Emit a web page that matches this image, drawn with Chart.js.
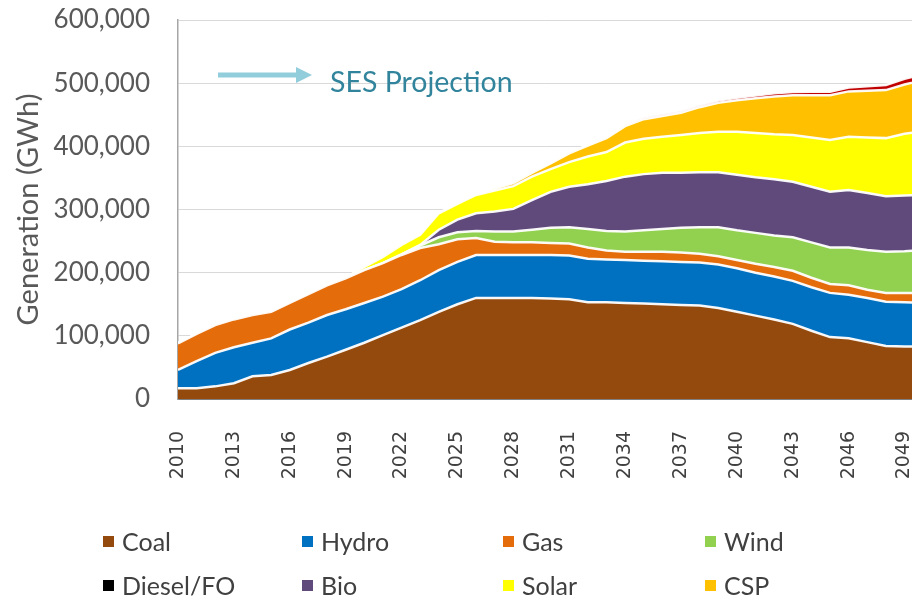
<!DOCTYPE html>
<html>
<head>
<meta charset="utf-8">
<script src="https://cdn.jsdelivr.net/npm/chart.js@4.4.1/dist/chart.umd.min.js"></script>
<style>
  html, body { margin: 0; padding: 0; background: #ffffff; overflow: hidden; width: 912px; height: 605px; }
  #wrap { position: relative; width: 912px; height: 605px; }
  #c { position: absolute; left: 0; top: 0; }
  .lg { position: absolute; font-family: Lato, "Open Sans", sans-serif; font-size: 25px; color: #404040; line-height: 30px; white-space: nowrap; }
  .lg i { position: absolute; left: 0; top: 10px; width: 11px; height: 11px; }
  .lg span { position: absolute; left: 19px; top: 0; }
</style>
</head>
<body>
<div id="wrap">
  <canvas id="c" width="912" height="605"></canvas>
</div>
<script>
// ---- data (GWh) ----
const years = [2010,2011,2012,2013,2014,2015,2016,2017,2018,2019,2020,2021,2022,2023,2024,2025,2026,2027,2028,2029,2030,2031,2032,2033,2034,2035,2036,2037,2038,2039,2040,2041,2042,2043,2044,2045,2046,2047,2048,2049,2050];

const coal = [17000,17000,20000,25000,36000,38000,46000,57000,67000,78000,89000,101000,113000,125000,138000,150000,160000,160000,160000,160000,159000,158000,153000,153000,152000,151000,150000,149000,148000,144000,138000,132000,126000,119000,108000,98000,96000,90000,84000,83000,83000];
const hydro = [29000,43000,53000,57000,53000,58000,64000,64000,66000,64000,63000,61000,61000,63000,66000,67000,68000,68000,68000,68000,69000,69000,69000,68000,68000,68000,68000,68000,68000,69000,69000,68000,68000,68000,69000,70000,69000,70000,70000,70000,69000];
const gas = [42000,43000,44000,44000,44000,42000,42000,45000,47000,49000,52000,53000,54000,51000,41000,36000,27000,21000,20000,20000,19000,19000,18000,14000,13000,14000,15000,15000,14000,13000,13000,14000,15000,16000,15000,14000,15000,13000,14000,15000,16000];
const wind = [0,0,0,0,0,0,0,0,0,0,0,0,1000,4000,11000,11000,11000,16000,17000,20000,24000,26000,29000,31000,32000,34000,36000,39000,42000,46000,47000,49000,50000,53000,56000,58000,60000,63000,65000,66000,68000];
const diesel = [0,0,0,0,0,0,0,0,0,0,0,0,0,0,0,0,0,0,0,0,0,0,0,0,0,0,0,0,0,0,0,0,0,0,0,0,0,0,0,0,0];
const bio = [0,0,0,0,0,0,0,0,0,0,0,0,0,1000,12000,20000,28000,32000,36000,47000,57000,64000,71000,79000,87000,89000,89000,87000,87000,87000,88000,88000,89000,88000,88000,88000,91000,90000,88000,88000,87000];
const solar = [0,0,0,0,0,0,0,0,0,1000,5000,10000,15000,16000,26000,25000,29000,33000,36000,37000,36000,39000,44000,46000,54000,56000,57000,60000,62000,64000,68000,70000,71000,74000,78000,82000,84000,88000,92000,98000,101000];
const csp = [0,0,0,0,0,0,0,0,0,0,0,0,0,0,0,0,0,3000,5000,6000,9000,14000,17000,22000,26000,31000,33000,35000,41000,46000,50000,55000,60000,63000,67000,71000,72000,74000,76000,78000,81000];
const other = [0,0,0,0,0,0,0,0,0,0,0,0,0,0,0,0,0,0,0,0,500,1000,1000,1500,2000,2500,3000,3000,3000,3500,4000,4500,5000,5000,5500,5500,6000,7000,8000,9000,9000];

const seriesNames = ['Coal','Hydro','Gas','Wind','Diesel/FO','Bio','Solar','CSP','Other'];
const seriesColors = ['#944a0c','#0070c0','#e46c0a','#92d050','#000000','#604a7b','#ffff00','#ffc000','#c00000'];
const seriesValues = [coal, hydro, gas, wind, diesel, bio, solar, csp, other];
const legendShown = ['Coal','Hydro','Gas','Wind','Diesel/FO','Bio','Solar','CSP'];
const xTicks = [2010,2013,2016,2019,2022,2025,2028,2031,2034,2037,2040,2043,2046,2049];
const yTicks = [0,100000,200000,300000,400000,500000,600000];

const datasets = seriesNames.map((name, i) => ({
  label: name,
  data: years.map((yr, k) => ({ x: yr, y: seriesValues[i][k] })),
  backgroundColor: seriesColors[i],
  borderColor: 'rgba(255,255,255,0.95)',
  borderWidth: name === 'Diesel/FO' ? 0 : 2.5,
  fill: i === 0 ? 'origin' : '-1',
  pointRadius: 0,
  tension: 0
}));

const annotation = {
  id: 'sesAnnot',
  afterDraw(chart) {
    const ctx = chart.ctx;
    ctx.save();
    ctx.strokeStyle = '#92cddc';
    ctx.fillStyle = '#92cddc';
    ctx.lineWidth = 5;
    ctx.beginPath();
    ctx.moveTo(218, 75);
    ctx.lineTo(298, 75);
    ctx.stroke();
    ctx.beginPath();
    ctx.moveTo(296, 67);
    ctx.lineTo(312, 75);
    ctx.lineTo(296, 83);
    ctx.closePath();
    ctx.fill();
    ctx.fillStyle = '#31849b';
    ctx.font = '28.5px Lato, "Open Sans", sans-serif';
    ctx.textBaseline = 'middle';
    ctx.textAlign = 'left';
    ctx.fillText('SES Projection', 330, 83);
    ctx.restore();
  }
};

new Chart(document.getElementById('c'), {
  type: 'line',
  data: { datasets },
  plugins: [annotation],
  options: {
    responsive: false,
    animation: false,
    devicePixelRatio: 1,
    layout: { padding: { left: 6, right: 0, top: 20, bottom: 0 } },
    plugins: { legend: { display: false }, tooltip: { enabled: false } },
    scales: {
      x: {
        type: 'linear',
        min: 2010, max: 2049.4,
        afterBuildTicks: (s) => { s.ticks = xTicks.map(v => ({ value: v })); },
        afterFit: (s) => { s.height = 206; s.paddingLeft = 0; s.paddingRight = 0; },
        grid: { display: false, drawTicks: false },
        border: { display: true, color: '#7f7f7f', width: 2 },
        ticks: {
          autoSkip: false, maxRotation: 90, minRotation: 90, padding: 32,
          color: '#404040', font: { family: '"DejaVu Sans"', size: 19 },
          callback: (v) => String(v)
        }
      },
      y: {
        stacked: true,
        min: 0, max: 600000,
        afterBuildTicks: (s) => { s.ticks = yTicks.map(v => ({ value: v })); },
        afterFit: (s) => { s.width = 172; s.paddingTop = 0; s.paddingBottom = 0; },
        grid: { color: '#d9d9d9', drawTicks: false, lineWidth: 1 },
        border: { display: true, color: '#a6a6a6', width: 1.5 },
        ticks: {
          padding: 28, color: '#595959', font: { family: 'Lato', size: 26 },
          callback: (v) => Number(v).toLocaleString('en-US')
        },
        title: {
          display: true, text: 'Generation (GWh)', color: '#595959',
          font: { family: 'Lato', size: 29 }, padding: { top: 5, bottom: 0 }
        }
      }
    }
  }
});

// HTML legend built from the series arrays
const wrap = document.getElementById('wrap');
const colX = [103, 302, 503, 705];
const rowY = [526, 570];
legendShown.forEach((name, k) => {
  const idx = seriesNames.indexOf(name);
  const d = document.createElement('div');
  d.className = 'lg';
  d.style.left = colX[k % 4] + 'px';
  d.style.top = rowY[Math.floor(k / 4)] + 'px';
  const b = document.createElement('i');
  b.style.background = seriesColors[idx];
  const s = document.createElement('span');
  s.textContent = name;
  d.appendChild(b); d.appendChild(s);
  wrap.appendChild(d);
});
</script>
</body>
</html>
